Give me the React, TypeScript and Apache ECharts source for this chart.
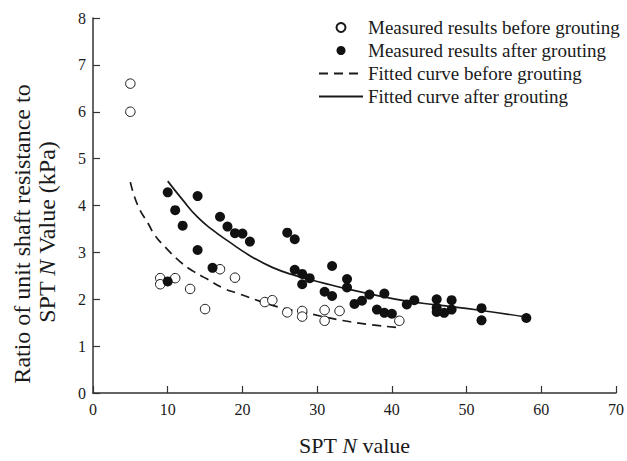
import React, { useEffect, useRef } from "react";
import * as echarts from "echarts";

// Measured ratio before grouting (open circles)
const beforeN = [5, 5, 9, 9, 11, 13, 15, 17, 19, 23, 24, 26, 28, 28, 31, 31, 33, 41];
const beforeRatio = [6.6, 6.0, 2.45, 2.32, 2.45, 2.22, 1.79, 2.64, 2.46, 1.94, 1.98, 1.72, 1.75, 1.63, 1.77, 1.54, 1.75, 1.54];

// Measured ratio after grouting (filled circles)
const afterN = [
  10, 10, 11, 12, 14, 14, 16, 17, 18, 19, 20, 21, 26, 27, 27, 28, 28, 29, 32, 31, 32,
  34, 34, 35, 36, 37, 38, 39, 39, 40, 42, 43, 46, 46, 46, 47, 48, 48, 52, 52, 58,
];
const afterRatio = [
  4.28, 2.38, 3.9, 3.57, 4.2, 3.05, 2.67, 3.76, 3.55, 3.41, 3.4, 3.23, 3.42, 3.28, 2.63, 2.54, 2.32, 2.45, 2.71, 2.16, 2.07,
  2.43, 2.25, 1.9, 1.97, 2.1, 1.78, 2.12, 1.71, 1.69, 1.89, 1.98, 2.0, 1.82, 1.73, 1.71, 1.98, 1.78, 1.81, 1.55, 1.6,
];

// Fitted curve before grouting (dashed)
const fitBeforeN = [5, 6, 7.4, 8.3, 9.8, 11.6, 13.4, 15.3, 17.4, 19.5, 22.3, 25.4, 28.5, 32.6, 36.6, 40.6];
const fitBeforeRatio = [4.5, 4.0, 3.61, 3.36, 3.09, 2.81, 2.6, 2.43, 2.24, 2.12, 1.96, 1.81, 1.71, 1.57, 1.47, 1.4];

// Fitted curve after grouting (solid)
const fitAfterN = [10, 12, 14, 16, 18, 21, 24, 27, 31, 34, 37.5, 42, 46, 52, 58];
const fitAfterRatio = [4.52, 4.12, 3.75, 3.48, 3.25, 2.93, 2.68, 2.51, 2.34, 2.22, 2.1, 1.96, 1.88, 1.76, 1.62];

const seriesNames = [
  "Measured results before grouting",
  "Measured results after grouting",
  "Fitted curve before grouting",
  "Fitted curve after grouting",
];

const FONT = "Liberation Serif";
const INK = "#1a1a1a";

const pairs = (xs: number[], ys: number[]) => xs.map((x, i) => [x, ys[i]]);

export default function App() {
  const ref = useRef<HTMLDivElement>(null);

  useEffect(() => {
    if (!ref.current) return;
    const chart = echarts.init(ref.current, undefined, { renderer: "svg" });
    const axisLine = { show: true, lineStyle: { color: "#333", width: 1.5 } };
    const axisTick = { show: true, inside: true, length: 7, lineStyle: { color: "#333", width: 1.2 } };
    const tickLabel = { fontFamily: FONT, fontSize: 16, color: INK };

    chart.setOption({
      animation: false,
      backgroundColor: "#fff",
      textStyle: { fontFamily: FONT, color: INK },
      grid: { left: 93, right: 10, top: 18, bottom: 57, containLabel: false },
      legend: {
        orient: "vertical",
        left: 313,
        top: 13,
        itemWidth: 44,
        itemHeight: 9,
        itemGap: 4,
        selectedMode: false,
        textStyle: { fontFamily: FONT, fontSize: 19, color: INK, lineHeight: 19 },
        data: [
          { name: seriesNames[0] },
          { name: seriesNames[1] },
          { name: seriesNames[2], itemStyle: { opacity: 0 } },
          { name: seriesNames[3], itemStyle: { opacity: 0 } },
        ],
      },
      xAxis: {
        type: "value",
        min: 0,
        max: 70,
        interval: 10,
        axisLine,
        axisTick,
        splitLine: { show: false },
        axisLabel: { ...tickLabel, margin: 8 },
        name: "{a|SPT }{i|N}{a| value}",
        nameLocation: "middle",
        nameGap: 41,
        nameTextStyle: {
          rich: {
            a: { fontFamily: FONT, fontSize: 22, color: INK },
            i: { fontFamily: FONT, fontSize: 22, color: INK, fontStyle: "italic" },
          },
        },
      },
      yAxis: {
        type: "value",
        min: 0,
        max: 8,
        interval: 1,
        axisLine,
        axisTick,
        splitLine: { show: false },
        axisLabel: { ...tickLabel, margin: 7 },
      },
      graphic: [
        {
          type: "text",
          x: 22,
          y: 234,
          rotation: Math.PI / 2,
          style: {
            text: "Ratio of unit shaft resistance to",
            fontFamily: FONT,
            fontSize: 24,
            fill: INK,
            align: "center",
            verticalAlign: "middle",
          },
        },
        {
          type: "text",
          x: 47,
          y: 232,
          rotation: Math.PI / 2,
          style: {
            text: "{a|SPT }{i|N}{a| Value (kPa)}",
            align: "center",
            verticalAlign: "middle",
            rich: {
              a: { fontFamily: FONT, fontSize: 24, fill: INK },
              i: { fontFamily: FONT, fontSize: 24, fill: INK, fontStyle: "italic" },
            },
          },
        },
      ],
      series: [
        {
          name: seriesNames[0],
          type: "scatter",
          symbol: "circle",
          symbolSize: 9.5,
          itemStyle: { color: "#fff", borderColor: INK, borderWidth: 1, opacity: 1 },
          data: pairs(beforeN, beforeRatio),
          z: 3,
        },
        {
          name: seriesNames[1],
          type: "scatter",
          symbol: "circle",
          symbolSize: 10,
          itemStyle: { color: "#111", borderWidth: 0, opacity: 1 },
          data: pairs(afterN, afterRatio),
          z: 4,
        },
        {
          name: seriesNames[2],
          type: "line",
          smooth: true,
          symbol: "none",
          lineStyle: { color: INK, width: 1.7, type: [9, 6] },
          itemStyle: { color: INK },
          data: pairs(fitBeforeN, fitBeforeRatio),
          z: 2,
        },
        {
          name: seriesNames[3],
          type: "line",
          smooth: true,
          symbol: "none",
          lineStyle: { color: INK, width: 1.7, type: "solid" },
          itemStyle: { color: INK },
          data: pairs(fitAfterN, fitAfterRatio),
          z: 2,
        },
      ],
    });

    return () => chart.dispose();
  }, []);

  return (
    <div
      ref={ref}
      style={{ position: "fixed", left: 0, top: 0, width: 627, height: 461, background: "#fff" }}
    />
  );
}
